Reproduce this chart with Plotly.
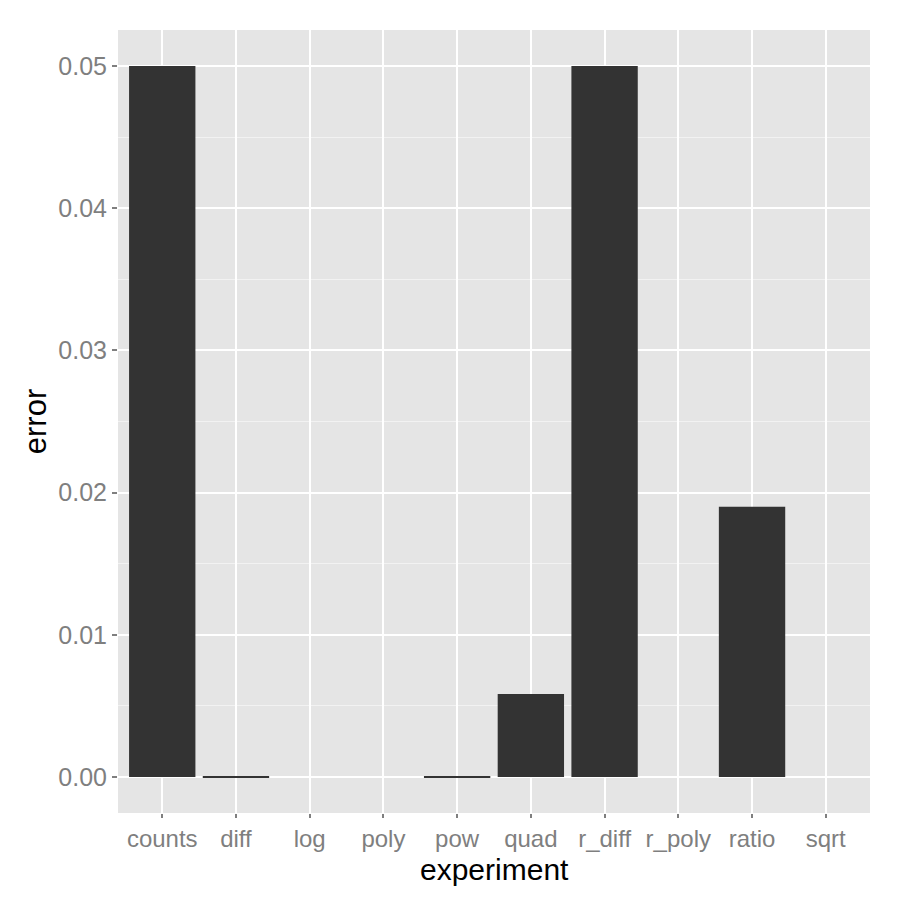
import plotly.graph_objects as go

experiments = ["counts", "diff", "log", "poly", "pow", "quad", "r_diff", "r_poly", "ratio", "sqrt"]
errors = [0.05, 0.00001, 0.0, 0.0, 0.00003, 0.00584, 0.05, 0.0, 0.0190, 0.0]

fig = go.Figure()
fig.add_trace(go.Bar(x=experiments, y=errors, width=0.9,
                     marker=dict(color="#333333", line=dict(width=0))))

fig.update_layout(
    width=900, height=900,
    margin=dict(l=118, r=30, t=30, b=87),
    paper_bgcolor="white", plot_bgcolor="#E5E5E5",
    font=dict(family="Liberation Sans, Arial, sans-serif"),
    showlegend=False, bargap=0.1,
    annotations=[dict(text="experiment", xref="paper", yref="paper", x=0.5, y=-0.0725,
                      xanchor="center", yanchor="middle", showarrow=False,
                      font=dict(size=30, color="black"))],
)
fig.update_xaxes(
    range=[-0.6, 9.6], showgrid=True, gridcolor="white", gridwidth=2,
    ticks="outside", ticklen=4, tickwidth=1.5, tickcolor="#7F7F7F",
    tickfont=dict(size=24, color="#7F7F7F"),
    zeroline=False, showline=False,
)
fig.update_yaxes(
    range=[-0.00253, 0.05253], tickvals=[0, 0.01, 0.02, 0.03, 0.04, 0.05],
    ticktext=["0.00", "0.01", "0.02", "0.03", "0.04", "0.05"],
    showgrid=True, gridcolor="white", gridwidth=2,
    minor=dict(tickvals=[0.005, 0.015, 0.025, 0.035, 0.045], showgrid=True,
               gridcolor="#F2F2F2", gridwidth=1),
    ticks="outside", ticklen=5, tickwidth=1.5, tickcolor="#7F7F7F",
    tickfont=dict(size=25, color="#7F7F7F"),
    title=dict(text="error", font=dict(size=31, color="black"), standoff=2),
    zeroline=False, showline=False,
)

fig.write_html("out.html")
